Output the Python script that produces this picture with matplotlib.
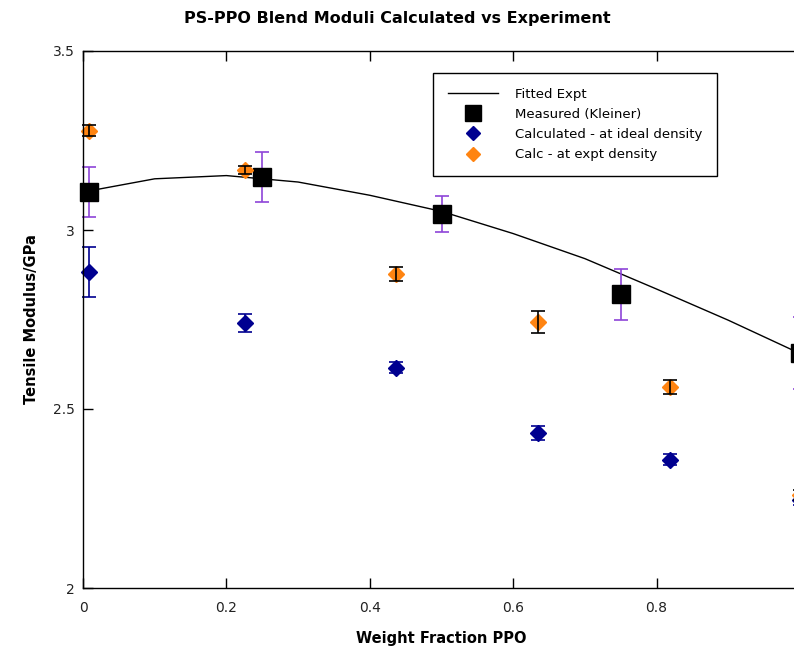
import matplotlib
matplotlib.use("Agg")
import matplotlib.pyplot as plt

fit_x = [0.0, 0.1, 0.2, 0.3, 0.4, 0.5, 0.6, 0.7, 0.8, 0.9, 1.0]
fit_y = [3.106, 3.143, 3.152, 3.134, 3.097, 3.052, 2.99, 2.92, 2.835, 2.748, 2.655]

# Measured (Kleiner)
meas_x = [0.008, 0.25, 0.5, 0.75, 1.0]
meas_y = [3.106, 3.148, 3.045, 2.82, 2.656]
meas_err = [0.07, 0.07, 0.05, 0.07, 0.10]

# Calculated - at ideal density
ideal_x = [0.008, 0.226, 0.436, 0.634, 0.818, 1.0]
ideal_y = [2.883, 2.74, 2.615, 2.433, 2.358, 2.246]
ideal_err = [0.07, 0.025, 0.015, 0.02, 0.015, 0.015]

# Calc - at expt density
expt_x = [0.008, 0.226, 0.436, 0.634, 0.818, 1.0]
expt_y = [3.277, 3.168, 2.877, 2.743, 2.561, 2.26]
expt_err = [0.015, 0.012, 0.02, 0.03, 0.02, 0.015]

fig = plt.figure(figsize=(7.94, 6.5), dpi=100)
ax = fig.add_axes([83/794, 1 - 588/650, (800 - 83)/794, (588 - 51)/650])


def unclip(container):
    for art in container.get_children():
        art.set_clip_on(False)


ax.plot(fit_x, fit_y, color="black", lw=1, label="Fitted Expt")
eb = ax.errorbar(meas_x, meas_y, yerr=meas_err, fmt="none", ecolor="#8e44d8",
                 elinewidth=1.2, capsize=5, capthick=1.2)
unclip(eb)
ax.plot(meas_x, meas_y, "s", color="black", ms=13, clip_on=False,
        label="Measured (Kleiner)")
eb = ax.errorbar(ideal_x, ideal_y, yerr=ideal_err, fmt="none", ecolor="#000090",
                 elinewidth=1.2, capsize=5, capthick=1.2)
unclip(eb)
ax.plot(ideal_x, ideal_y, "D", color="#000090", ms=8.5, clip_on=False,
        label="Calculated - at ideal density")
eb = ax.errorbar(expt_x, expt_y, yerr=expt_err, fmt="none", ecolor="black",
                 elinewidth=1.2, capsize=5, capthick=1.2, zorder=3)
unclip(eb)
ax.plot(expt_x, expt_y, "D", color="#ff8411", ms=8.5, zorder=2.5, clip_on=False,
        label="Calc - at expt density")

ax.set_xlim(0, 1)
ax.set_ylim(2, 3.5)
ax.set_xticks([0, 0.2, 0.4, 0.6, 0.8])
ax.set_xticklabels(["0", "0.2", "0.4", "0.6", "0.8"])
ax.set_yticks([2, 2.5, 3, 3.5])
ax.set_yticklabels(["2", "2.5", "3", "3.5"])
ax.tick_params(direction="in", length=7, width=1, top=True, right=False,
               labelsize=10, colors="black", labelcolor="#222222")
ax.tick_params(axis="x", pad=9)
ax.tick_params(axis="y", pad=6)
for s in ax.spines.values():
    s.set_linewidth(1)

ax.set_xlabel("Weight Fraction PPO", fontsize=10.5, fontweight="bold", labelpad=12)
ax.set_ylabel("Tensile Modulus/GPa", fontsize=10.5, fontweight="bold", labelpad=10)
fig.text(0.5, 1 - 18/650, "PS-PPO Blend Moduli Calculated vs Experiment",
         ha="center", va="center", fontsize=11.5, fontweight="bold")

leg = ax.legend(loc="upper left", bbox_to_anchor=(433/794, 1 - 73/650),
                bbox_transform=fig.transFigure, borderaxespad=0,
                fancybox=False, edgecolor="black", framealpha=1,
                fontsize=9.5, handlelength=3.8, handletextpad=1.3,
                borderpad=1.1, labelspacing=0.55, markerscale=0.85)
leg.get_frame().set_linewidth(1)

fig.savefig("out.png", dpi=100)
